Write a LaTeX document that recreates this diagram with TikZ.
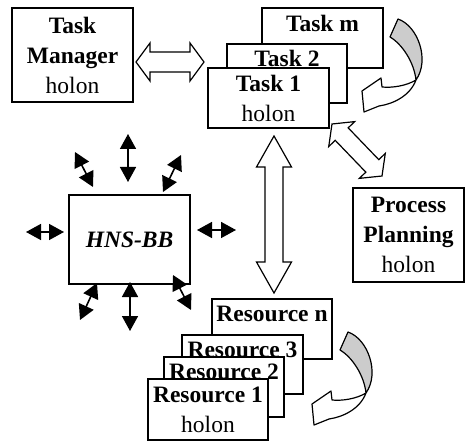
\documentclass[tikz,border=0pt]{standalone}
\usepackage{fontspec}
\setmainfont{Liberation Serif}
\usetikzlibrary{arrows.meta,calc}

% double-headed block arrow: from, to, shaft half width, head half width, head length
\newcommand\bigdbl[5]{%
  \draw[blockarrow] (#1)
    -- ($(#1)!#5!(#2)!#4!90:(#2)$) -- ($(#1)!#5!(#2)!#3!90:(#2)$)
    -- ($(#2)!#5!(#1)!#3!-90:(#1)$) -- ($(#2)!#5!(#1)!#4!-90:(#1)$)
    -- (#2)
    -- ($(#2)!#5!(#1)!#4!90:(#1)$) -- ($(#2)!#5!(#1)!#3!90:(#1)$)
    -- ($(#1)!#5!(#2)!#3!-90:(#2)$) -- ($(#1)!#5!(#2)!#4!-90:(#2)$)
    -- cycle;}

% curling arrow with shaded back face (coordinates local to its scope)
\newcommand\curlarrow{%
  \fill[gray!40] (398,19) .. controls (418,26) and (430,60) .. (416,80)
    .. controls (414,62) and (402,44) .. (390,37) -- cycle;
  \draw[curlline] (398,19) .. controls (418,26) and (430,60) .. (416,80)
    .. controls (410,96) and (393,104) .. (379,106)
    -- (364,112) -- (362,91) -- (381,78) -- (382,87)
    .. controls (392,88) and (406,86) .. (416,80)
    .. controls (414,62) and (402,44) .. (390,37) -- cycle;}

\tikzset{
  box/.style={draw, line width=1.3pt, fill=white, inner sep=0pt, align=center,
    font=\fontsize{23.5}{30}\selectfont},
  backbox/.style={box, text depth=30pt},
  blockarrow/.style={draw, line width=1.2pt, fill=white, line join=miter},
  curlline/.style={draw, line width=1.2pt, line join=round},
  smallarrow/.style={line width=1.6pt,
    {Triangle[length=15pt,width=16pt]}-{Triangle[length=15pt,width=16pt]}},
}

\begin{document}
\begin{tikzpicture}[x=1pt, y=-1pt]
\useasboundingbox (0,0) rectangle (465,443);

% Task Manager holon
\node[box, minimum width=121pt, minimum height=94pt] (tm) at (72.5,55)
  {\textbf{Task}\\\textbf{Manager}\\holon};

% stack of task holons (only the front one shows its second line)
\node[backbox, minimum width=121pt, minimum height=60pt] (taskm) at (322.5,38)
  {\textbf{Task m}};
\node[backbox, minimum width=120pt, minimum height=59pt] (task2) at (287,73.5)
  {\textbf{Task 2}};
\node[box, minimum width=121pt, minimum height=60pt] (task1) at (268.5,98)
  {\textbf{Task 1}\\holon};

% Process Planning holon
\node[box, minimum width=111pt, minimum height=94pt] (pp) at (408.5,235)
  {\textbf{Process}\\\textbf{Planning}\\holon};

% HNS building block
\node[box, minimum width=121pt, minimum height=89pt] (hns) at (129.5,239.5)
  {\textbf{\itshape HNS-BB}};

% stack of resource holons
\node[backbox, minimum width=120pt, minimum height=60pt] (resn) at (272,329)
  {\textbf{Resource n}};
\node[backbox, minimum width=121pt, minimum height=59pt] (res3) at (242.5,364.5)
  {\textbf{Resource 3}};
\node[backbox, minimum width=120pt, minimum height=60pt] (res2) at (224,387)
  {\textbf{Resource 2}};
\node[box, minimum width=120pt, minimum height=61pt] (res1) at (208,409.5)
  {\textbf{Resource 1}\\holon};

% end points of the block arrows
\coordinate (tmA) at (136,62);   \coordinate (tmB) at (204,62);
\coordinate (vA)  at (274,136);  \coordinate (vB)  at (274,293);
\coordinate (dA)  at (332,124);  \coordinate (dB)  at (382,176);

\bigdbl{tmA}{tmB}{10pt}{19pt}{14pt}
\bigdbl{vA}{vB}{9pt}{17.5pt}{31pt}
\bigdbl{dA}{dB}{9pt}{18pt}{14pt}

% curling arrows beside the stacks
\begin{scope}
  \curlarrow
\end{scope}
\begin{scope}[shift={(-50,313)}]
  \curlarrow
\end{scope}

% small arrows around HNS-BB
\coordinate (n1) at (128,134); \coordinate (n2) at (128,182);
\coordinate (s1) at (130,282); \coordinate (s2) at (130,331);
\coordinate (w1) at (26,232);  \coordinate (w2) at (64,232);
\coordinate (e1) at (197,230); \coordinate (e2) at (236,230);
\coordinate (nw1) at (75,152); \coordinate (nw2) at (93,187);
\coordinate (ne1) at (181,155); \coordinate (ne2) at (163,192);
\coordinate (sw1) at (97,283); \coordinate (sw2) at (80,320);
\coordinate (se1) at (173,275); \coordinate (se2) at (191,310);
\foreach \p in {n,s,w,e,nw,ne,sw,se}
  \draw[smallarrow] (\p1) -- (\p2);
\end{tikzpicture}
\end{document}
